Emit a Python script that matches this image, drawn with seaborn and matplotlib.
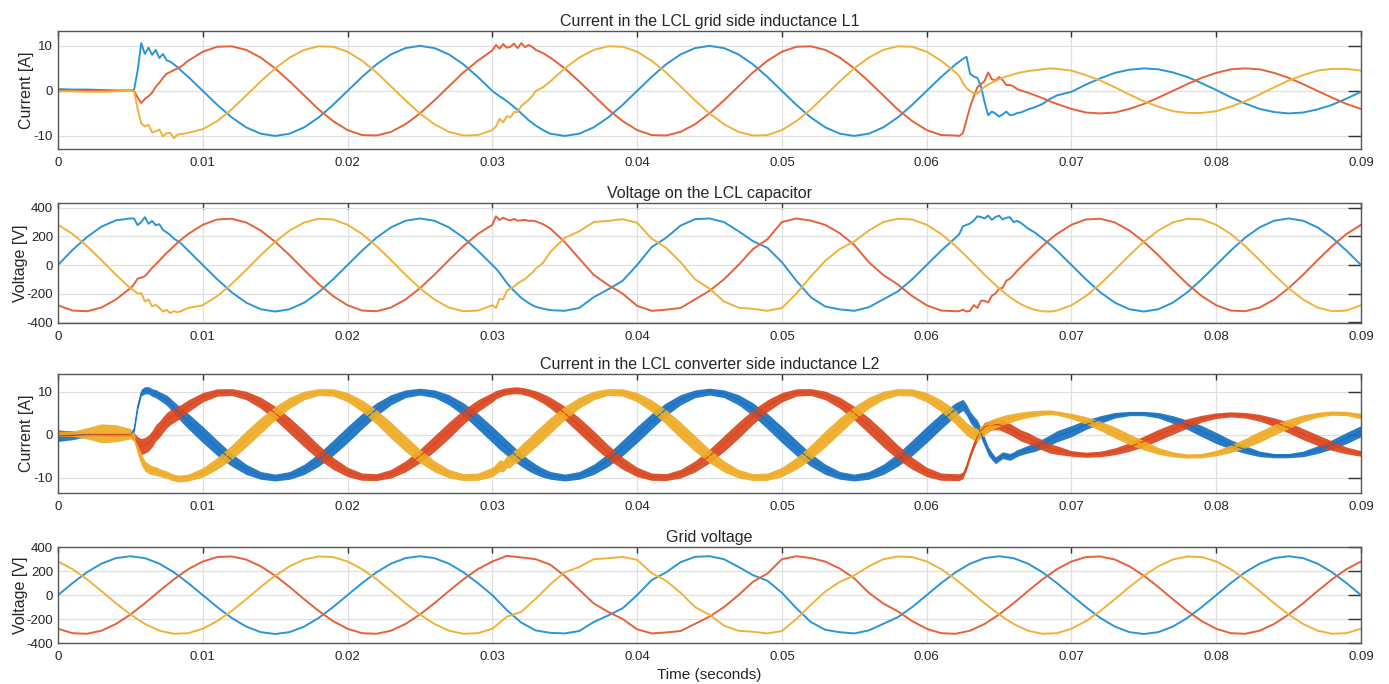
import numpy as np
import pandas as pd
import matplotlib
matplotlib.use("Agg")
import matplotlib.pyplot as plt
import seaborn as sns

# ---------------- sample times (s) for panels 1-3 (finer around transients) ----------------
T = [0.0, 0.001, 0.002, 0.003, 0.004, 0.005,
     0.00525, 0.0055, 0.00575, 0.006, 0.00625, 0.0065, 0.00675, 0.007, 0.00725, 0.0075, 0.00775, 0.008, 0.00825, 0.0085,
     0.009, 0.010, 0.011, 0.012, 0.013, 0.014, 0.015, 0.016, 0.017, 0.018, 0.019, 0.020, 0.021, 0.022, 0.023, 0.024,
     0.025, 0.026, 0.027, 0.028, 0.029, 0.030,
     0.03025, 0.0305, 0.03075, 0.031, 0.03125, 0.0315, 0.03175, 0.032, 0.03225, 0.0325, 0.03275, 0.033, 0.0335,
     0.034, 0.035, 0.036, 0.037, 0.038, 0.039, 0.040, 0.041, 0.042, 0.043, 0.044, 0.045, 0.046, 0.047, 0.048, 0.049,
     0.050, 0.051, 0.052, 0.053, 0.054, 0.055, 0.056, 0.057, 0.058, 0.059, 0.060, 0.061, 0.062,
     0.06225, 0.0625, 0.06275, 0.063, 0.06325, 0.0635, 0.06375, 0.064, 0.06425, 0.0645, 0.06475, 0.065, 0.06525,
     0.0655, 0.06575, 0.066, 0.06625, 0.0665, 0.067, 0.0675, 0.068, 0.0685, 0.069,
     0.070, 0.071, 0.072, 0.073, 0.074, 0.075, 0.076, 0.077, 0.078, 0.079, 0.080, 0.081, 0.082, 0.083, 0.084, 0.085,
     0.086, 0.087, 0.088, 0.089, 0.090]

# ---------------- Panel 1: current in grid side inductance L1 [A] ----------------
p1_blue = ([0.4, 0.3, 0.3, 0.2, 0.1, 0.1] +
           [0.2, 4.5, 10.6, 8.2, 9.6, 8.0, 9.1, 7.3, 8.2, 6.8, 6.5, 5.9, 5.3, 4.5] +
           [3.1, 0, -3.1, -5.9, -8.1, -9.5, -10, -9.5, -8.1, -5.9, -3.1, 0, 3.1, 5.9, 8.1, 9.5, 10, 9.5, 8.1, 5.9, 3.1, 0] +
           [-0.6, -1.2, -1.7, -2.3, -2.9, -3.6, -4.2, -5.0, -5.7, -6.5, -7.1, -7.7, -8.7] +
           [-9.5, -10, -9.5, -8.1, -5.9, -3.1, 0, 3.1, 5.9, 8.1, 9.5, 10, 9.5, 8.1, 5.9, 3.1, 0, -3.1, -5.9, -8.1,
            -9.5, -10, -9.5, -8.1, -5.9, -3.1, 0, 3.1, 5.9] +
           [6.5, 7.1, 7.6, 3.8, 3.2, 2.9, 1.0, -2.5, -5.4, -4.6, -5.0, -5.7, -5.2, -4.6, -5.4, -5.3, -4.9, -4.8,
            -4.1, -3.6, -2.9, -1.8, -1.0] +
           [-0.2, 1.4, 2.8, 4.0, 4.7, 5.0, 4.8, 4.1, 3.1, 1.7, 0.2, -1.4, -2.8, -4.0, -4.7, -5.0, -4.8, -4.1, -3.1, -1.7, -0.2])
p1_orange = ([0.1, 0.0, 0.0, 0.0, 0.0, 0.0] +
             [0.0, -1.5, -2.7, -1.8, -1.2, -0.4, 0.9, 1.8, 2.9, 3.8, 4.2, 4.6, 5.0, 5.4] +
             [6.7, 8.7, 9.8, 9.9, 9.1, 7.4, 5.0, 2.1, -1.0, -4.1, -6.7, -8.7, -9.8, -9.9, -9.1, -7.4, -5.0, -2.1, 1.0, 4.1, 6.7, 9.0] +
             [10.2, 9.4, 10.4, 9.6, 9.8, 10.5, 9.5, 10.6, 9.7, 10.2, 9.8, 9.1, 8.4] +
             [7.4, 5.0, 2.1, -1.0, -4.1, -6.7, -8.7, -9.8, -9.9, -9.1, -7.4, -5.0, -2.1, 1.0, 4.1, 6.7, 8.7, 9.8, 9.9, 9.1,
              7.4, 5.0, 2.1, -1.0, -4.1, -6.7, -8.7, -9.8, -9.9] +
             [-10.0, -9.4, -6.5, -3.5, -1.3, 0.8, 1.5, 2.2, 4.1, 2.6, 2.3, 3.1, 2.4, 1.3, 1.3, 1.0, 0.4, 0.1, -0.4, -1.0,
              -1.6, -2.3, -2.9] +
             [-4.0, -4.8, -5.0, -4.8, -4.0, -2.9, -1.5, 0.0, 1.5, 2.9, 4.0, 4.8, 5.0, 4.8, 4.0, 2.9, 1.5, 0.0, -1.5, -2.9, -4.0])
p1_yellow = ([-0.1, -0.1, -0.2, -0.2, -0.1, 0.0] +
             [0.0, -4.0, -7.2, -7.9, -7.5, -9.2, -9.0, -8.6, -10.1, -9.4, -9.3, -10.5, -9.7, -9.6] +
             [-9.3, -8.5, -6.7, -4.1, -1.0, 2.1, 5.0, 7.4, 9.1, 9.9, 9.8, 8.7, 6.7, 4.1, 1.0, -2.1, -5.0, -7.4, -9.1, -9.9, -9.8, -8.7] +
             [-7.9, -6.2, -7.0, -5.6, -5.9, -4.7, -4.7, -3.3, -2.7, -2.0, -1.2, 0.0, 0.8] +
             [2.1, 5.0, 7.4, 9.1, 9.9, 9.8, 8.7, 6.7, 4.1, 1.0, -2.1, -5.0, -7.4, -9.1, -9.9, -9.8, -8.7, -6.7, -4.1, -1.0,
              2.1, 5.0, 7.4, 9.1, 9.9, 9.8, 8.7, 6.7, 4.1] +
             [3.3, 1.8, 0.6, 0.0, -0.5, -0.6, 0.2, 0.9, 1.4, 1.8, 2.2, 2.6, 2.9, 3.2, 3.4, 3.7, 3.9, 4.1, 4.4, 4.6, 4.8, 5.0, 4.9] +
             [4.5, 3.5, 2.3, 0.8, -0.8, -2.3, -3.5, -4.5, -4.9, -4.9, -4.5, -3.5, -2.3, -0.8, 0.8, 2.3, 3.5, 4.5, 4.9, 4.9, 4.5])

# ---------------- Panel 2: voltage on the LCL capacitor [V] ----------------
p2_blue = ([0, 105, 195, 268, 312, 325] +
           [325, 278, 300, 334, 288, 308, 278, 285, 245, 228, 210, 185, 168, 150] +
           [100, 0, -100, -191, -263, -309, -325, -309, -263, -191, -100, 0, 100, 191, 263, 309, 325, 309, 263, 191, 100, 0] +
           [-25, -55, -90, -125, -155, -180, -205, -230, -248, -265, -280, -292, -305] +
           [-315, -320, -300, -225, -170, -110, 0, 125, 190, 275, 320, 325, 300, 236, 167, 120, 20, -110, -225, -290,
            -310, -320, -295, -240, -185, -100, 0, 100, 191] +
           [215, 270, 280, 290, 310, 340, 335, 325, 346, 315, 335, 345, 318, 330, 334, 300, 308, 295, 255, 225, 185, 145, 100] +
           [0, -100, -191, -263, -309, -325, -309, -263, -191, -100, 0, 100, 191, 263, 309, 325, 309, 263, 191, 100, 0])
p2_orange = ([-281, -318, -323, -297, -241, -162] +
             [-135, -95, -88, -78, -50, -20, 5, 30, 58, 84, 108, 132, 155, 177] +
             [217, 281, 318, 323, 297, 241, 162, 68, -34, -132, -217, -281, -318, -323, -297, -241, -162, -68, 34, 132, 217, 281] +
             [340, 315, 330, 318, 312, 322, 310, 312, 315, 308, 310, 305, 285] +
             [255, 160, 45, -69, -140, -200, -285, -320, -312, -300, -240, -180, -100, 0, 111, 180, 300, 325, 310, 280,
              222, 140, 20, -70, -135, -217, -281, -318, -323] +
             [-322, -312, -325, -320, -280, -300, -250, -250, -262, -215, -200, -165, -160, -110, -95, -70, -40, -15,
              34, 84, 132, 177, 217] +
             [281, 318, 323, 297, 241, 162, 68, -34, -132, -217, -281, -318, -323, -297, -241, -162, -68, 34, 132, 217, 281])
p2_yellow = ([281, 217, 132, 34, -68, -162] +
             [-178, -200, -195, -254, -240, -290, -278, -300, -325, -313, -336, -322, -330, -322] +
             [-300, -281, -217, -132, -34, 68, 162, 241, 297, 323, 318, 281, 217, 132, 34, -68, -162, -241, -297, -323, -318, -281] +
             [-300, -235, -240, -180, -165, -150, -128, -112, -100, -75, -55, -25, 15] +
             [90, 190, 235, 300, 308, 320, 295, 185, 120, 20, -100, -165, -255, -298, -306, -320, -300, -200, -80, 30,
              111, 165, 240, 300, 323, 318, 281, 217, 132] +
             [108, 84, 59, 34, 9, -17, -42, -68, -92, -116, -140, -162, -184, -205, -224, -241, -258, -273, -297, -314,
              -323, -325, -318] +
             [-281, -217, -132, -34, 68, 162, 241, 297, 323, 318, 281, 217, 132, 34, -68, -162, -241, -297, -323, -318, -281])

# ---------------- Panel 3: current in converter side inductance L2 [A] (centre + ripple half-width) ----------------
p3_blue = ([-0.3, -0.2, 0.0, 0.0, 0.0, 0.0] +
           [1.0, 6.5, 9.8, 10.3, 10.3, 9.8, 9.5, 9.0, 8.5, 8.0, 7.2, 6.3, 5.5, 4.6] +
           [3.1, 0, -3.1, -5.9, -8.1, -9.5, -10, -9.5, -8.1, -5.9, -3.1, 0, 3.1, 5.9, 8.1, 9.5, 10, 9.5, 8.1, 5.9, 3.1, 0] +
           [-0.8, -1.6, -2.3, -3.1, -3.8, -4.5, -5.2, -5.9, -6.5, -7.1, -7.6, -8.1, -8.9] +
           [-9.5, -10, -9.5, -8.1, -5.9, -3.1, 0, 3.1, 5.9, 8.1, 9.5, 10, 9.5, 8.1, 5.9, 3.1, 0, -3.1, -5.9, -8.1,
            -9.5, -10, -9.5, -8.1, -5.9, -3.1, 0, 3.1, 5.9] +
           [6.4, 6.9, 5.8, 4.1, 3.0, 2.2, 0.3, -1.7, -3.8, -5.0, -6.0, -5.4, -4.8, -5.0, -5.2, -4.8, -4.3, -4.0,
            -3.4, -2.9, -2.1, -1.3, -0.4] +
           [0.8, 2.3, 3.5, 4.5, 4.9, 4.9, 4.5, 3.5, 2.3, 0.8, -0.8, -2.3, -3.5, -4.5, -4.9, -4.9, -4.5, -3.5, -2.3, -0.8, 0.8])
p3_blue_ripple = ([1.3, 1.0, 0.5, 0.4, 0.4, 0.5] +
                  [0.8, 0.8, 0.8, 0.85, 0.85, 0.9, 0.95, 1.0, 1.1, 1.2, 1.3, 1.4, 1.45, 1.55] +
                  [1.8, 1.9, 1.8, 1.5, 1.2, 0.9, 0.8, 0.9, 1.2, 1.5, 1.8, 1.9, 1.8, 1.5, 1.2, 0.9, 0.8, 0.9, 1.2, 1.5, 1.8, 1.9] +
                  [1.9, 1.9, 1.85, 1.8, 1.75, 1.65, 1.6, 1.5, 1.45, 1.35, 1.3, 1.2, 1.05] +
                  [0.9, 0.8, 0.9, 1.2, 1.5, 1.8, 1.9, 1.8, 1.5, 1.2, 0.9, 0.8, 0.9, 1.2, 1.5, 1.8, 1.9, 1.8, 1.5, 1.2,
                   0.9, 0.8, 0.9, 1.2, 1.5, 1.8, 1.9, 1.8, 1.5] +
                  [1.4, 1.3, 1.3, 1.3, 1.3, 1.2, 1.2, 1.1, 1.0, 0.9, 0.8, 0.8, 0.8, 0.8, 0.8, 0.8, 0.8, 0.8, 0.9, 1.0, 1.1, 1.2, 1.3] +
                  [1.3, 1.1, 0.9, 0.65, 0.5, 0.5, 0.65, 0.9, 1.1, 1.3, 1.3, 1.1, 0.9, 0.65, 0.5, 0.5, 0.65, 0.9, 1.1, 1.3, 1.3])
p3_orange = ([0.3, 0.2, 0.1, 0.0, 0.0, 0.0] +
             [-0.5, -2.0, -2.8, -2.5, -2.0, -1.0, 0.4, 1.2, 2.3, 3.3, 4.0, 4.5, 5.0, 5.4] +
             [6.7, 8.7, 9.8, 9.9, 9.1, 7.4, 5.0, 2.1, -1.0, -4.1, -6.7, -8.7, -9.8, -9.9, -9.1, -7.4, -5.0, -2.1, 1.0, 4.1, 6.7, 8.7] +
             [9.3, 9.6, 9.9, 10.1, 10.2, 10.3, 10.3, 10.2, 10.0, 9.8, 9.5, 9.2, 8.4] +
             [7.4, 5.0, 2.1, -1.0, -4.1, -6.7, -8.7, -9.8, -9.9, -9.1, -7.4, -5.0, -2.1, 1.0, 4.1, 6.7, 8.7, 9.8, 9.9, 9.1,
              7.4, 5.0, 2.1, -1.0, -4.1, -6.7, -8.7, -9.8, -9.9] +
             [-9.9, -9.5, -7.5, -4.8, -2.5, -0.5, 0.8, 1.8, 2.0, 2.2, 2.3, 2.3, 2.0, 1.6, 1.3, 0.8, 0.3, -0.2, -0.8, -1.7,
              -2.4, -3.2, -3.6] +
             [-4.4, -4.7, -4.5, -3.9, -2.9, -1.6, -0.1, 1.3, 2.6, 3.7, 4.4, 4.7, 4.5, 3.9, 2.9, 1.6, 0.1, -1.3, -2.6, -3.7, -4.4])
p3_orange_ripple = ([0.8, 0.6, 0.4, 0.4, 0.5, 0.5] +
                    [1.0, 1.5, 1.85, 1.85, 1.85, 1.9, 1.9, 1.9, 1.85, 1.8, 1.75, 1.7, 1.65, 1.6] +
                    [1.4, 1.1, 0.85, 0.8, 1.0, 1.3, 1.6, 1.85, 1.9, 1.7, 1.4, 1.1, 0.85, 0.8, 1.0, 1.3, 1.6, 1.85, 1.9, 1.7, 1.4, 1.1] +
                    [1.0, 0.9, 0.85, 0.8, 0.8, 0.8, 0.8, 0.8, 0.85, 0.85, 0.9, 1.0, 1.1] +
                    [1.3, 1.6, 1.85, 1.9, 1.7, 1.4, 1.1, 0.85, 0.8, 1.0, 1.3, 1.6, 1.85, 1.9, 1.7, 1.4, 1.1, 0.85, 0.8, 1.0,
                     1.3, 1.6, 1.85, 1.9, 1.7, 1.4, 1.1, 0.85, 0.8] +
                    [0.8, 0.8, 0.8, 0.85, 0.9, 0.95, 1.0, 1.05, 1.1, 1.15, 1.2, 1.2, 1.25, 1.25, 1.3, 1.3, 1.3, 1.3, 1.3,
                     1.25, 1.2, 1.1, 1.0] +
                    [0.65, 0.6, 0.65, 0.8, 1.0, 1.25, 1.3, 1.25, 1.1, 0.8, 0.65, 0.6, 0.65, 0.8, 1.0, 1.25, 1.3, 1.25, 1.1, 0.8, 0.65])
p3_yellow = ([0.2, 0.2, 0.3, 0.3, 0.3, 0.2] +
             [-0.5, -3.5, -5.8, -7.3, -7.9, -8.3, -8.5, -8.8, -9.1, -9.3, -9.7, -10.0, -10.2, -10.2] +
             [-10.0, -8.8, -6.7, -4.1, -1.0, 2.1, 5.0, 7.4, 9.1, 9.9, 9.8, 8.7, 6.7, 4.1, 1.0, -2.1, -5.0, -7.4, -9.1, -9.9, -9.8, -8.7] +
             [-8.0, -7.2, -7.4, -6.3, -6.2, -5.2, -4.8, -4.0, -3.3, -2.6, -1.8, -1.0, 0.5] +
             [2.1, 5.0, 7.4, 9.1, 9.9, 9.8, 8.7, 6.7, 4.1, 1.0, -2.1, -5.0, -7.4, -9.1, -9.9, -9.8, -8.7, -6.7, -4.1, -1.0,
              2.1, 5.0, 7.4, 9.1, 9.9, 9.8, 8.7, 6.7, 4.1] +
             [3.0, 2.2, 1.3, 0.7, 0.2, 0.0, 0.6, 1.2, 1.8, 2.3, 2.7, 3.0, 3.3, 3.6, 3.8, 4.0, 4.2, 4.4, 4.7, 4.9, 5.1, 5.2, 5.0] +
             [4.3, 3.3, 2.0, 0.5, -1.1, -2.5, -3.8, -4.6, -5.0, -4.9, -4.3, -3.3, -2.0, -0.5, 1.1, 2.5, 3.8, 4.6, 5.0, 4.9, 4.3])
p3_yellow_ripple = ([0.6, 0.6, 1.3, 2.2, 2.0, 1.2] +
                    [1.0, 1.2, 1.3, 1.2, 1.15, 1.05, 1.0, 0.95, 0.9, 0.85, 0.85, 0.8, 0.8, 0.8] +
                    [0.8, 1.1, 1.4, 1.7, 1.9, 1.85, 1.6, 1.3, 1.0, 0.8, 0.85, 1.1, 1.4, 1.7, 1.9, 1.85, 1.6, 1.3, 1.0, 0.8, 0.85, 1.1] +
                    [1.2, 1.35, 1.3, 1.45, 1.45, 1.6, 1.65, 1.7, 1.8, 1.8, 1.85, 1.9, 1.9] +
                    [1.85, 1.6, 1.3, 1.0, 0.8, 0.85, 1.1, 1.4, 1.7, 1.9, 1.85, 1.6, 1.3, 1.0, 0.8, 0.85, 1.1, 1.4, 1.7, 1.9,
                     1.85, 1.6, 1.3, 1.0, 0.8, 0.85, 1.1, 1.4, 1.7] +
                    [1.5, 1.5, 1.5, 1.5, 1.5, 1.45, 1.4, 1.35, 1.3, 1.25, 1.2, 1.15, 1.1, 1.05, 1.0, 0.95, 0.9, 0.85, 0.75,
                     0.7, 0.6, 0.55, 0.5] +
                    [0.65, 0.9, 1.1, 1.3, 1.25, 1.1, 0.8, 0.6, 0.5, 0.5, 0.65, 0.9, 1.1, 1.3, 1.25, 1.1, 0.8, 0.6, 0.5, 0.5, 0.65])

# ---------------- Panel 4: grid voltage [V], sampled every 1 ms ----------------
T4 = [round(i * 0.001, 3) for i in range(91)]
p4_blue = ([0, 100, 191, 263, 309, 325, 309, 263, 191, 100, 0, -100, -191, -263, -309, -325, -309, -263, -191, -100,
            0, 100, 191, 263, 309, 325, 309, 263, 191, 100] +
           [0, -125, -230, -295, -315, -320, -300, -225, -170, -110, 0, 125, 190, 275, 320, 325, 300, 236, 167, 120,
            20, -110, -225, -290, -310, -320, -295, -240, -185, -100, 0] +
           [100, 191, 263, 309, 325, 309, 263, 191, 100, 0, -100, -191, -263, -309, -325, -309, -263, -191, -100, 0,
            100, 191, 263, 309, 325, 309, 263, 191, 100, 0])
p4_orange = ([-281, -318, -323, -297, -241, -162, -68, 34, 132, 217, 281, 318, 323, 297, 241, 162, 68, -34, -132, -217,
              -281, -318, -323, -297, -241, -162, -68, 34, 132, 217] +
             [281, 328, 315, 300, 255, 160, 45, -69, -140, -200, -285, -320, -312, -300, -240, -180, -100, 0, 111, 180,
              300, 325, 310, 280, 222, 140, 20, -70, -135, -217, -281] +
             [-318, -323, -297, -241, -162, -68, 34, 132, 217, 281, 318, 323, 297, 241, 162, 68, -34, -132, -217, -281,
              -318, -323, -297, -241, -162, -68, 34, 132, 217, 281])
p4_yellow = ([281, 217, 132, 34, -68, -162, -241, -297, -323, -318, -281, -217, -132, -34, 68, 162, 241, 297, 323, 318,
              281, 217, 132, 34, -68, -162, -241, -297, -323, -318] +
             [-281, -180, -140, -30, 90, 190, 235, 300, 308, 320, 295, 185, 120, 20, -100, -165, -255, -298, -306, -320,
              -300, -200, -80, 30, 111, 165, 240, 300, 323, 318, 281] +
             [217, 132, 34, -68, -162, -241, -297, -323, -318, -281, -217, -132, -34, 68, 162, 241, 297, 323, 318, 281,
              217, 132, 34, -68, -162, -241, -297, -323, -318, -281])

# ---------------- labels ----------------
x_ticks = [0, 0.01, 0.02, 0.03, 0.04, 0.05, 0.06, 0.07, 0.08, 0.09]
x_tick_labels = ["0", "0.01", "0.02", "0.03", "0.04", "0.05", "0.06", "0.07", "0.08", "0.09"]
titles = ["Current in the LCL grid side inductance L1", "Voltage on the LCL capacitor",
          "Current in the LCL converter side inductance L2", "Grid voltage"]
ylabels = ["Current [A]", "Voltage [V]", "Current [A]", "Voltage [V]"]
current_ticks = [-10, 0, 10]
voltage_ticks = [-400, -200, 0, 200, 400]
phases = ["a", "b", "c"]

for name, arr in [("p1_blue", p1_blue), ("p1_orange", p1_orange), ("p1_yellow", p1_yellow),
                  ("p2_blue", p2_blue), ("p2_orange", p2_orange), ("p2_yellow", p2_yellow),
                  ("p3_blue", p3_blue), ("p3_orange", p3_orange), ("p3_yellow", p3_yellow),
                  ("p3_blue_ripple", p3_blue_ripple), ("p3_orange_ripple", p3_orange_ripple),
                  ("p3_yellow_ripple", p3_yellow_ripple)]:
    assert len(arr) == len(T), (name, len(arr), len(T))
for name, arr in [("p4_blue", p4_blue), ("p4_orange", p4_orange), ("p4_yellow", p4_yellow)]:
    assert len(arr) == len(T4), (name, len(arr))

# ---------------- styling ----------------
sns.set_theme(style="white")
plt.rcParams["font.family"] = ["Liberation Sans", "DejaVu Sans"]
plt.rcParams["axes.unicode_minus"] = False

thin_colors = {"a": "#2b95d6", "b": "#e5623a", "c": "#efb33b"}
thick_colors = {"a": "#1670c2", "b": "#d9461e", "c": "#eeab25"}

W, H = 1389, 684
fig = plt.figure(figsize=(W / 100, H / 100), dpi=100)


def add_ax(top, bottom, left=58, right=1361):
    return fig.add_axes([left / W, 1 - bottom / H, (right - left) / W, (bottom - top) / H])


def style(ax, ylim, yticks, ylabel, title, label_right_px):
    ax.set_xlim(0, 0.09)
    ax.set_ylim(*ylim)
    ax.set_xticks(x_ticks)
    ax.set_xticklabels(x_tick_labels)
    ax.set_yticks(yticks)
    ax.set_yticklabels([str(v) for v in yticks])
    ax.grid(True, color="#e0e0e0", lw=0.9)
    ax.set_axisbelow(True)
    for s in ax.spines.values():
        s.set_visible(True)
        s.set_color("#555555")
        s.set_linewidth(1.0)
    ax.tick_params(axis="both", direction="in", top=True, right=True, colors="#333333",
                   labelcolor="#262626", labelsize=9.5, width=1.0)
    ax.tick_params(axis="x", length=4.5, pad=5.5)
    ax.tick_params(axis="y", length=9.5, pad=3.5)
    ax.set_ylabel(ylabel, fontsize=11.5, color="#262626")
    ax.yaxis.set_label_coords((label_right_px - 58) / 1303, 0.5)
    ax.set_xlabel("")
    ax.set_title(title, fontsize=11.5, color="#262626", pad=3.5)


def draw_lines(ax, t, series, lw):
    df = pd.concat([pd.DataFrame({"t": t, "v": s, "phase": ph}) for ph, s in zip(phases, series)],
                   ignore_index=True)
    sns.lineplot(data=df, x="t", y="v", hue="phase", hue_order=phases, palette=thin_colors,
                 estimator=None, sort=False, legend=False, lw=lw, ax=ax)


ax1 = add_ax(31, 149)
draw_lines(ax1, T, [p1_blue, p1_orange, p1_yellow], 1.4)
style(ax1, (-12.9, 13.3), current_ticks, ylabels[0], titles[0], 34)

ax2 = add_ax(203, 323)
draw_lines(ax2, T, [p2_blue, p2_orange, p2_yellow], 1.4)
style(ax2, (-405, 433), voltage_ticks, ylabels[1], titles[1], 28)

ax3 = add_ax(374, 493)
Tn = np.array(T)
for ph, c, r in zip(phases, [p3_blue, p3_orange, p3_yellow],
                    [p3_blue_ripple, p3_orange_ripple, p3_yellow_ripple]):
    c = np.array(c, dtype=float)
    r = np.array(r, dtype=float)
    ax3.fill_between(Tn, c - r, c + r, color=thick_colors[ph], lw=0, alpha=0.92)
    sns.lineplot(x=Tn, y=c, color=thick_colors[ph], lw=0.8, estimator=None, sort=False, ax=ax3)
style(ax3, (-13.6, 14.1), current_ticks, ylabels[2], titles[2], 34)

ax4 = add_ax(547, 643)
draw_lines(ax4, T4, [p4_blue, p4_orange, p4_yellow], 1.4)
style(ax4, (-400, 402), voltage_ticks, ylabels[3], titles[3], 28)
ax4.set_xlabel("Time (seconds)", fontsize=11, color="#262626", labelpad=4)

fig.savefig("out.png", dpi=100, facecolor="white")
